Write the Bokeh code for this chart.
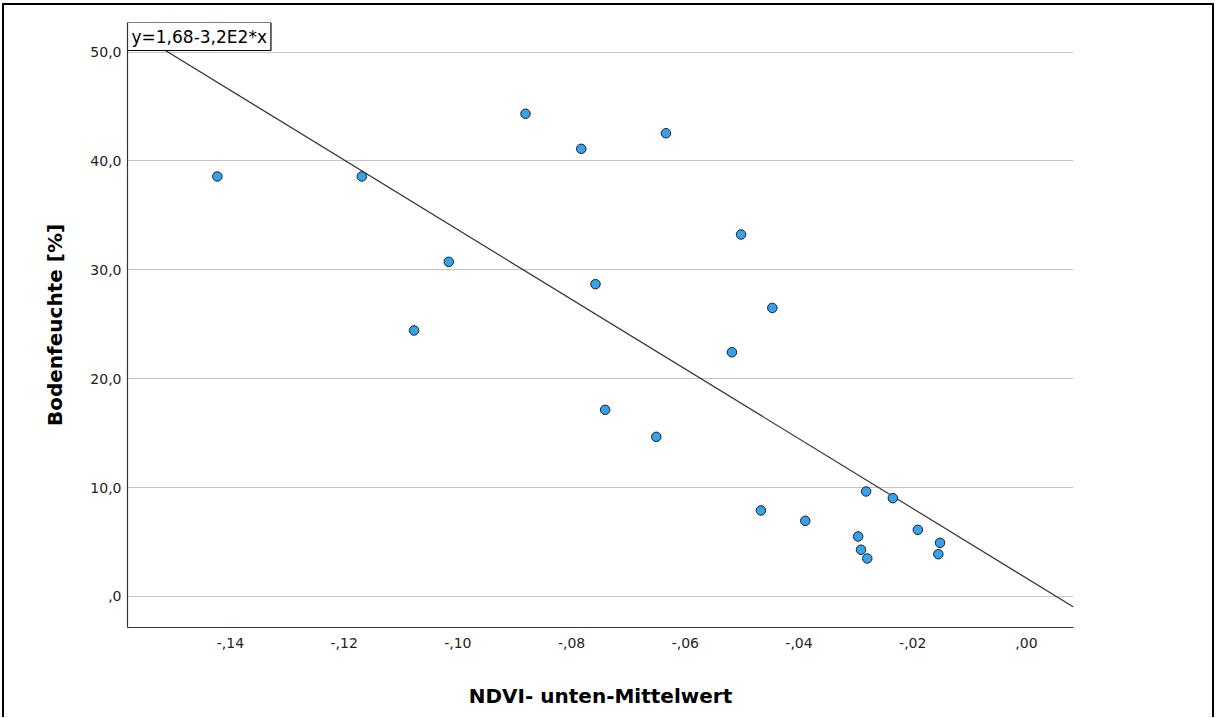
from bokeh.plotting import figure
from bokeh.models import FixedTicker, Label, Range1d
from bokeh.embed import file_html
from bokeh.resources import INLINE

# Data (NDVI unten-Mittelwert vs Bodenfeuchte [%])
ndvi = [-0.1423, -0.1169, -0.1077, -0.1016, -0.0881, -0.0783, -0.0758, -0.0741,
        -0.0651, -0.0634, -0.0502, -0.0518, -0.0467, -0.0447, -0.0389, -0.0296,
        -0.0291, -0.0280, -0.0282, -0.0235, -0.0191, -0.0152, -0.0155]
feuchte = [38.57, 38.57, 24.43, 30.73, 44.33, 41.11, 28.68, 17.14,
           14.66, 42.54, 33.24, 22.43, 7.90, 26.5, 6.95, 5.51,
           4.29, 3.49, 9.64, 9.03, 6.12, 4.93, 3.88]

intercept = 1.68
slope = -320.0
r2_text = "R\u00b2 Linear = 0,605"
eq_text = "y=1,68-3,2E2*x"

x_ticks = [-0.14, -0.12, -0.10, -0.08, -0.06, -0.04, -0.02, 0.0]
x_tick_labels = ["-,14", "-,12", "-,10", "-,08", "-,06", "-,04", "-,02", ",00"]
y_ticks = [0, 10, 20, 30, 40, 50]
y_tick_labels = [",0", "10,0", "20,0", "30,0", "40,0", "50,0"]

x_lo, x_hi = -0.1581, 0.00827
y_lo, y_hi = -2.85, 52.71

FONT = "DejaVu Sans"

p = figure(frame_width=946, frame_height=605,
           min_border_left=123, min_border_top=17,
           min_border_right=139, min_border_bottom=90,
           x_range=Range1d(x_lo, x_hi), y_range=Range1d(y_lo, y_hi),
           output_backend="svg", toolbar_location=None,
           background_fill_color="white", border_fill_color="white")
p.styles = {"margin-left": "2px", "margin-top": "3px",
            "border-left": "2px solid black", "border-top": "2px solid black",
            "border-right": "2px solid black"}
p.outline_line_color = None

# axes
for ax in (p.xaxis[0], p.yaxis[0]):
    ax.axis_line_color = "#333333"
    ax.axis_line_width = 1.2
    ax.major_tick_out = 0
    ax.major_tick_in = 0
    ax.minor_tick_out = 0
    ax.minor_tick_in = 0
    ax.major_label_text_font = FONT
    ax.major_label_text_font_size = "14px"
    ax.major_label_text_color = "#222222"
    ax.axis_label_text_font = FONT
    ax.axis_label_text_font_style = "bold"
    ax.axis_label_text_font_size = "20px"
    ax.axis_label_text_color = "#000000"

p.xaxis.ticker = FixedTicker(ticks=x_ticks)
p.xaxis.major_label_overrides = dict(zip(x_ticks, x_tick_labels))
p.xaxis.axis_label = "NDVI- unten-Mittelwert"
p.xaxis.major_label_standoff = 10
p.xaxis.axis_label_standoff = 33

p.yaxis.ticker = FixedTicker(ticks=y_ticks)
p.yaxis.major_label_overrides = dict(zip(y_ticks, y_tick_labels))
p.yaxis.axis_label = "Bodenfeuchte [%]"
p.yaxis.major_label_standoff = 6
p.yaxis.axis_label_standoff = 20

p.xgrid.grid_line_color = None
p.ygrid.grid_line_color = "#c4c4c4"
p.ygrid.grid_line_width = 1

# regression line across the full x range
line_x = [x_lo, x_hi]
line_y = [intercept + slope * v for v in line_x]
p.line(line_x, line_y, line_color="#333333", line_width=1.2)

# points
p.scatter(ndvi, feuchte, size=9.5, fill_color="#33a3ee",
          line_color="#1e1e1e", line_width=1)

# equation box
p.add_layout(Label(x=x_lo, y=y_hi, text=eq_text, anchor="top_left",
                   text_font=FONT, text_font_size="17px", text_color="#000000",
                   padding=4, background_fill_color="white",
                   border_line_color="#000000", border_line_width=1.2))

# R^2 label outside the frame at top right
p.add_layout(Label(x=x_hi, y=51.65, text=r2_text, text_align="left",
                   text_baseline="middle", x_offset=0,
                   text_font=FONT, text_font_size="14px", text_color="#222222"))

open("out.html", "w").write(file_html(p, INLINE))
